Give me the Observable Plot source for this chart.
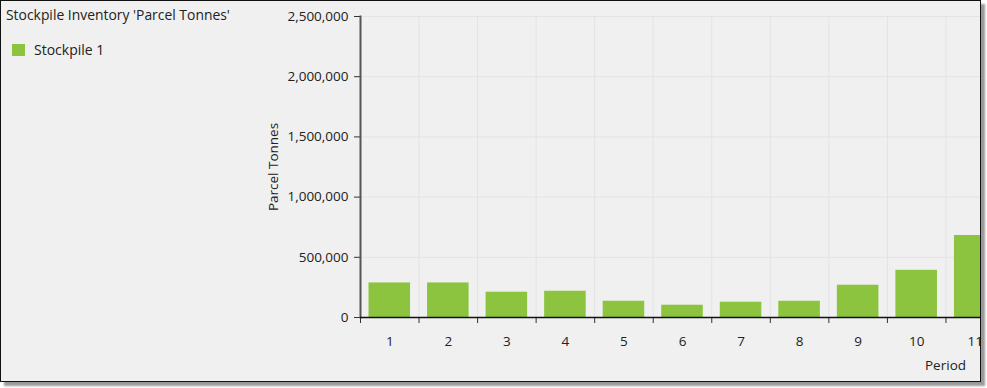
<!DOCTYPE html>
<html><head><meta charset="utf-8">
<script src="https://cdn.jsdelivr.net/npm/d3@7"></script>
<script src="https://cdn.jsdelivr.net/npm/@observablehq/plot@0.6"></script>
<style>
html,body{margin:0;padding:0;background:#fff;}
body{width:987px;height:388px;position:relative;overflow:hidden;font-family:"Open Sans",sans-serif;color:#222;}
#frame{position:absolute;left:0;top:0;width:981px;height:382px;box-sizing:border-box;border:1.5px solid #111;box-shadow:4px 4px 2px #999;background:#f0f0f0;overflow:hidden;}
#chart{position:absolute;left:-1.5px;top:-1.5px;width:1010px;height:380px;}
#chart svg{max-width:none !important;}
#title{position:absolute;left:6px;top:5px;font-size:13.9px;white-space:nowrap;}
#legend{position:absolute;left:12px;top:40px;font-size:14px;white-space:nowrap;display:flex;align-items:center;}
#legend .sw{width:13px;height:12px;background:#8dc43f;margin-right:9px;}
#xlabel{position:absolute;left:925px;top:356px;font-size:13.5px;}
</style></head>
<body>
<div id="frame"><div id="chart"></div></div>
<div id="title"></div>
<div id="legend"><span class="sw"></span><span id="legtext"></span></div>
<div id="xlabel"></div>
<script>
const chartTitle = "Stockpile Inventory 'Parcel Tonnes'";
const seriesName = "Stockpile 1";
const xLabel = "Period";
const yLabel = "Parcel Tonnes";
const periods = [1, 2, 3, 4, 5, 6, 7, 8, 9, 10, 11];
const tonnes = [287000, 287000, 210000, 218000, 135000, 102000, 127000, 135000, 268000, 392000, 681000];
const yTicks = [0, 500000, 1000000, 1500000, 2000000, 2500000];
const barColor = "#8dc43f";

const data = periods.map((p, i) => ({period: p, tonnes: tonnes[i]}));
const edges = periods.map(p => p - 0.5);

document.getElementById("title").textContent = chartTitle;
document.getElementById("legtext").textContent = seriesName;
document.getElementById("xlabel").textContent = xLabel;

const chart = Plot.plot({
  width: 1010, height: 380,
  marginLeft: 360, marginRight: 6, marginTop: 16, marginBottom: 63,
  style: {background: "transparent", fontFamily: "Open Sans", fontSize: "13.5px", color: "#222", maxWidth: "none"},
  x: {domain: [0.5, 11.5]},
  y: {domain: [0, 2500000]},
  marks: [
    Plot.gridY(yTicks, {stroke: "#e3e3e3", strokeOpacity: 1}),
    Plot.gridX(edges, {stroke: "#e3e3e3", strokeOpacity: 1}),
    Plot.rectY(data, {x1: d => d.period - 0.5, x2: d => d.period + 0.5, y: "tonnes", fill: barColor, insetLeft: 8.5, insetRight: 8.5}),
    Plot.axisY(yTicks, {tickSize: 6, tickPadding: 6, tickFormat: d3.format(","), label: yLabel, labelAnchor: "center", labelArrow: false, labelOffset: 92, stroke: "#333"}),
    Plot.axisX(edges, {tickSize: 6, tickFormat: () => "", label: null, stroke: "#333"}),
    Plot.axisX(periods, {tickSize: 0, tickPadding: 19, label: null}),
    Plot.frame({anchor: "left", stroke: "#555", strokeWidth: 2}),
    Plot.ruleY([0], {stroke: "#111", strokeWidth: 1.5})
  ]
});
chart.style.maxWidth = "none";
document.getElementById("chart").appendChild(chart);
</script>
</body></html>
